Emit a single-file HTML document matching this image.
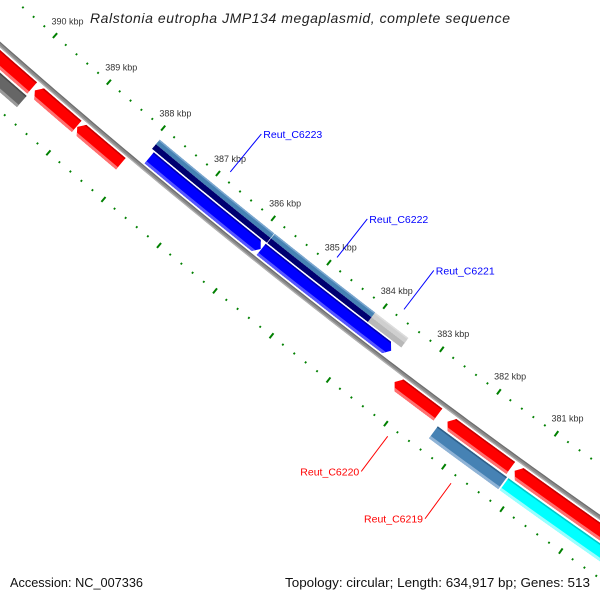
<!DOCTYPE html>
<html><head><meta charset="utf-8"><style>
html,body{margin:0;padding:0;background:#fff;width:600px;height:600px;overflow:hidden;}
svg{display:block;}
text{font-family:"Liberation Sans",sans-serif;}
</style></head><body>
<svg id="map" width="600" height="600" viewBox="0 0 600 600" xmlns="http://www.w3.org/2000/svg" overflow="hidden">
<defs id="defs"></defs>
<g id="ticks"></g>
<g id="backbone"></g>
<g id="features"></g>
<g id="labels"></g>
<text x="300" y="23" text-anchor="middle" font-size="14" font-style="italic" fill="#222" textLength="420" lengthAdjust="spacing">Ralstonia eutropha JMP134 megaplasmid, complete sequence</text>
<text x="10" y="587" font-size="12.5" fill="#111" textLength="133" lengthAdjust="spacingAndGlyphs">Accession: NC_007336</text>
<text x="590" y="587" text-anchor="end" font-size="12.5" fill="#111" textLength="305" lengthAdjust="spacingAndGlyphs">Topology: circular; Length: 634,917 bp; Genes: 513</text>
</svg>
<script>
// ---- data ----
const featStarts = [389760, 388940, 388134, 382497, 381238, 379000, 385869, 383554, 385857, 385857, 384057, 384057, 383470, 383470, 389745, 381205, 379000];
const featEnds   = [391300, 389710, 388930, 383252, 382330, 381170, 387883, 385860, 387933, 387933, 385847, 385847, 384057, 384057, 391300, 382400, 381180];
const featDirs   = [1, 1, 1, 1, 1, 1, -1, -1, 0, 0, 0, 0, 0, 0, 0, 0, 0];
const featTracks = ["rev", "rev", "rev", "rev", "rev", "rev", "fwd", "fwd", "o2a", "o2b", "o2a", "o2b", "o2a", "o2b", "in2", "in2", "in2"];
const featColors = ["#ff0000", "#ff0000", "#ff0000", "#ff0000", "#ff0000", "#ff0000", "#0000ff", "#0000ff", "#4682b4", "#000070", "#4682b4", "#000070", "#cfcfcf", "#b8b8b8", "#666666", "#4682b4", "#00ffff"];
const featTops   = ["#c80000", "#c80000", "#c80000", "#c80000", "#c80000", "#c80000", "#0000b0", "#0000b0", "#7aa6cf", "#000070", "#7aa6cf", "#000070", "#dcdcdc", "#b8b8b8", "#4a4a4a", "#2f5f88", "#00c8c8"];
const featBottoms= ["#ff7070", "#ff7070", "#ff7070", "#ff7070", "#ff7070", "#ff7070", "#5555ff", "#5555ff", "#4682b4", "#000070", "#4682b4", "#000070", "#cfcfcf", "#b8b8b8", "#9a9a9a", "#8fb3d6", "#99ffff"];
const labelTexts = ["Reut_C6223", "Reut_C6222", "Reut_C6221", "Reut_C6220", "Reut_C6219"];
const labelBps   = [386880, 384955, 383763, 382875, 381783];
const labelSides = [-1, -1, -1, 1, 1];
const labelColors= ["#0000ff", "#0000ff", "#0000ff", "#ff0000", "#ff0000"];
const tickMin = 379400, tickMax = 391400, tickMinor = 200, tickMajor = 1000;

// ---- geometry (axis functions) ----
const CX = 4555, CY = -5117, R0 = 6884, PHI0 = 129.94, K = 0.000596;
const TRACKS = {fwd:[-18.5,-4], rev:[4,19], o2a:[-32,-26], o2b:[-26,-20], in2:[21,36]};
function ang(bp){ return (PHI0 + (bp - 388000) * K) * Math.PI / 180; }
function pt(bp, d){ const a = ang(bp), r = R0 + d; return [CX + r*Math.cos(a), CY + r*Math.sin(a)]; }
function arcPts(b1, b2, d){ const out=[]; const n=Math.max(2, Math.ceil(Math.abs(b2-b1)/100)); for(let i=0;i<=n;i++){ out.push(pt(b1+(b2-b1)*i/n, d)); } return out; }
function toPath(pts){ return 'M'+pts.map(p=>p[0].toFixed(2)+','+p[1].toFixed(2)).join('L')+'Z'; }
function band(b1,b2,d1,d2){ return toPath(arcPts(b1,b2,d1).concat(arcPts(b2,b1,d2))); }
const NS = 'http://www.w3.org/2000/svg';
const defs = document.getElementById('defs');

// ticks
const tg = document.getElementById('ticks');
for (let bp = tickMin; bp <= tickMax; bp += tickMinor) {
  const major = bp % tickMajor === 0;
  [-43, 50].forEach(function(dc){
    const h = major ? 3.2 : 1;
    const a = pt(bp, dc - h), b = pt(bp, dc + h);
    const ln = document.createElementNS(NS,'line');
    ln.setAttribute('x1',a[0]); ln.setAttribute('y1',a[1]); ln.setAttribute('x2',b[0]); ln.setAttribute('y2',b[1]);
    ln.setAttribute('stroke','#008000'); ln.setAttribute('stroke-width', major ? '2' : '1.8');
    
    
    tg.appendChild(ln);
  });
  if (major) {
    const p = pt(bp, -62);
    const t = document.createElementNS(NS,'text');
    t.setAttribute('x', p[0]); t.setAttribute('y', p[1] + 3);
    t.setAttribute('text-anchor','middle'); t.setAttribute('font-size','9'); t.setAttribute('fill','#333');
    t.textContent = (bp/1000) + ' kbp';
    
    
    tg.appendChild(t);
  }
}

// backbone
const bb = document.getElementById('backbone');
[[-2.2,2.2,'#8a8a8a'],[-2.2,-1,'#6e6e6e'],[1,2.2,'#b0b0b0']].forEach(function(s){
  const p = document.createElementNS(NS,'path');
  p.setAttribute('d', band(379000, 391300, s[0], s[1])); p.setAttribute('fill', s[2]);
  
  
  bb.appendChild(p);
});

// features
const fg = document.getElementById('features');
const HEAD = 80;
for (let i = 0; i < featStarts.length; i++) {
  const lo = Math.min(featStarts[i], featEnds[i]), hi = Math.max(featStarts[i], featEnds[i]);
  const tr = TRACKS[featTracks[i]], d1 = tr[0], d2 = tr[1], dm = (d1+d2)/2;
  let shape;
  if (featDirs[i] === -1) {
    shape = toPath(arcPts(hi, lo+HEAD, d1).concat([pt(lo, dm)]).concat(arcPts(lo+HEAD, hi, d2)));
  } else if (featDirs[i] === 1) {
    shape = toPath(arcPts(lo, hi-HEAD, d1).concat([pt(hi, dm)]).concat(arcPts(hi-HEAD, lo, d2)));
  } else {
    shape = band(lo, hi, d1, d2);
  }
  const cp = document.createElementNS(NS,'clipPath');
  cp.setAttribute('id','clip'+i);
  const cpp = document.createElementNS(NS,'path'); cpp.setAttribute('d', shape); cp.appendChild(cpp); defs.appendChild(cp);
  const g = document.createElementNS(NS,'g');
  g.setAttribute('clip-path','url(#clip'+i+')');
  
  
  const lo2 = lo - 200, hi2 = hi + 200;
  [[d1, d2, featColors[i]], [d1, d1+1.6, featTops[i]], [d2-3, d2, featBottoms[i]]].forEach(function(s){
    const p = document.createElementNS(NS,'path');
    p.setAttribute('d', band(lo2, hi2, s[0], s[1])); p.setAttribute('fill', s[2]);
    g.appendChild(p);
  });
  fg.appendChild(g);
}

// labels
const lg = document.getElementById('labels');
for (let i = 0; i < labelTexts.length; i++) {
  const s = labelSides[i];
  const a = pt(labelBps[i], s < 0 ? -52 : 59), b = pt(labelBps[i], s < 0 ? -101 : 103);
  const ln = document.createElementNS(NS,'line');
  ln.setAttribute('x1',a[0]); ln.setAttribute('y1',a[1]); ln.setAttribute('x2',b[0]); ln.setAttribute('y2',b[1]);
  ln.setAttribute('stroke', labelColors[i]); ln.setAttribute('stroke-width','1');
  
  
  lg.appendChild(ln);
  const t = document.createElementNS(NS,'text');
  t.setAttribute('x', s < 0 ? b[0] + 2 : b[0] - 2); t.setAttribute('y', b[1] + 4);
  t.setAttribute('text-anchor', s < 0 ? 'start' : 'end');
  t.setAttribute('font-size','10.5'); t.setAttribute('fill', labelColors[i]);
  t.textContent = labelTexts[i];
  
  
  lg.appendChild(t);
}
</script>
</body></html>
